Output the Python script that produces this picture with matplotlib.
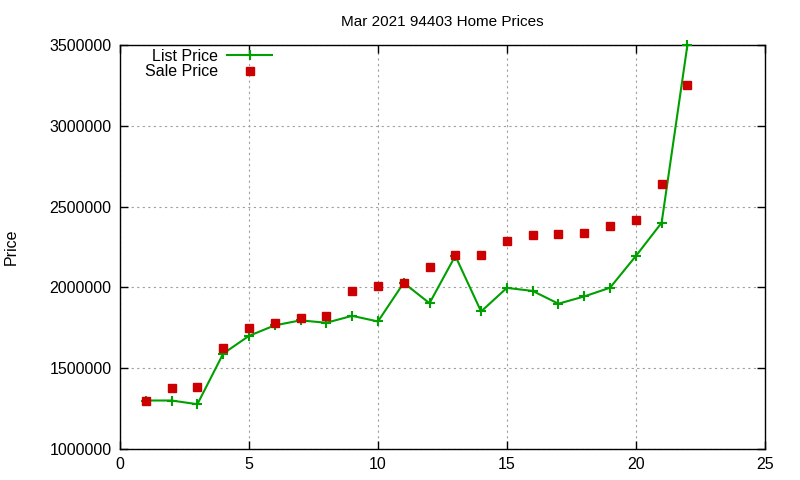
import matplotlib
matplotlib.use('Agg')
import matplotlib.pyplot as plt

# values
days = list(range(1, 23))
list_price = [1300000, 1300000, 1277000, 1590000, 1700000, 1765000, 1796000, 1781000,
              1824000, 1789000, 2028000, 1902000, 2195000, 1851000, 1997000, 1978000,
              1899000, 1944000, 1998000, 2194000, 2400000, 3500000]
sale_price = [1298000, 1378000, 1384000, 1626000, 1749000, 1779000, 1811000, 1824000,
              1978000, 2010000, 2028000, 2127000, 2201000, 2201000, 2288000, 2325000,
              2331000, 2338000, 2381000, 2418000, 2641000, 3253000]

plt.rcParams['font.family'] = ['Liberation Sans', 'DejaVu Sans']

fig = plt.figure(figsize=(8, 4.8), dpi=100)
ax = fig.add_axes([0.15, 0.0646, 0.806, 0.8417])

ax.plot(days, list_price, color='#00a000', lw=1.5, marker='+', ms=7, mew=1.5,
        label='List Price', clip_on=False, zorder=3)
ax.plot(days, sale_price, ls='none', color='#cc0000', marker='s', ms=5.8,
        label='Sale Price', zorder=3)

ax.set_xlim(0, 25)
ax.set_ylim(1000000, 3500000)
ax.set_xticks(range(0, 26, 5))
ax.set_yticks(range(1000000, 3500001, 500000))
ax.ticklabel_format(style='plain', axis='y', useOffset=False)

ax.grid(True, color='#a0a0a0', ls=(0, (2, 3)), lw=0.8)
ax.tick_params(direction='in', top=True, right=True, length=6, width=1,
               labelsize=11.5, colors='black', pad=6)
for s in ax.spines.values():
    s.set_linewidth(1)

ax.set_title('Mar 2021 94403 Home Prices', fontsize=11, pad=14)
ax.set_ylabel('Price', fontsize=11.5, labelpad=22)

ax.legend(loc='upper left', bbox_to_anchor=(0.026, 1.011), frameon=False,
          markerfirst=False, numpoints=1, handlelength=2.8, fontsize=11.5,
          borderaxespad=0.1, labelspacing=0.05, handletextpad=0.6)

fig.savefig('out.png', dpi=100)
